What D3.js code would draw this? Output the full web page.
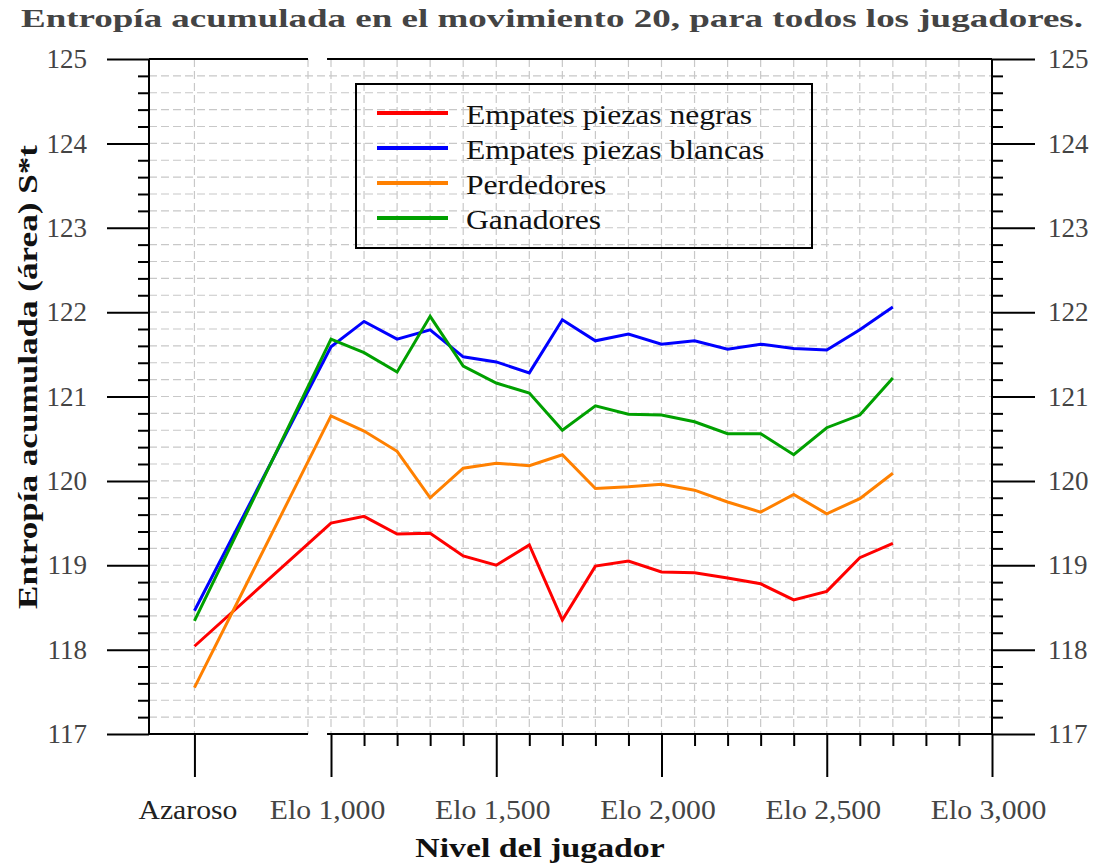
<!DOCTYPE html>
<html>
<head>
<meta charset="utf-8">
<script src="https://cdn.jsdelivr.net/npm/d3@7"></script>
<style>
  body { margin: 0; background: #fff; }
  svg { display: block; font-family: "Liberation Serif", "Times New Roman", serif; }
  .grid line { stroke: #c8c8c8; stroke-width: 1.2; stroke-dasharray: 8,4; }
  .frame line { stroke: #000; stroke-width: 2; }
  .tick line { stroke: #000; stroke-width: 2; }
  .tick text { fill: #444; font-size: 27px; }
</style>
</head>
<body>
<svg id="chart" width="1100" height="865"></svg>
<script>
// data
var levels = ["Azaroso", 1000, 1100, 1200, 1300, 1400, 1500, 1600, 1700, 1800,
  1900, 2000, 2100, 2200, 2300, 2400, 2500, 2600, 2700];
var negras     = [118.04, 119.50, 119.58, 119.37, 119.38, 119.11, 119.00, 119.24, 118.35, 118.99,
  119.05, 118.92, 118.91, 118.85, 118.78, 118.59, 118.69, 119.09, 119.26];
var blancas    = [118.46, 121.59, 121.89, 121.68, 121.79, 121.47, 121.41, 121.28, 121.91, 121.66,
  121.74, 121.62, 121.66, 121.56, 121.62, 121.57, 121.55, 121.79, 122.06];
var perdedores = [117.55, 120.77, 120.59, 120.35, 119.80, 120.15, 120.21, 120.18, 120.31, 119.91,
  119.93, 119.96, 119.89, 119.75, 119.63, 119.84, 119.61, 119.79, 120.09];
var ganadores  = [118.34, 121.68, 121.52, 121.29, 121.95, 121.36, 121.16, 121.04, 120.60, 120.89,
  120.79, 120.78, 120.70, 120.56, 120.56, 120.31, 120.63, 120.78, 121.22];

var seriesNames = ["Empates piezas negras", "Empates piezas blancas", "Perdedores", "Ganadores"];
var seriesColors = ["#ff0000", "#0000ff", "#ff8000", "#00a000"];
var seriesValues = [negras, blancas, perdedores, ganadores];

var yMajor = [117, 118, 119, 120, 121, 122, 123, 124, 125];
var eloMajor = [1000, 1500, 2000, 2500, 3000];
var eloLabels = ["Elo 1,000", "Elo 1,500", "Elo 2,000", "Elo 2,500", "Elo 3,000"];

var serif = '"Liberation Serif", "Times New Roman", serif';
var svg = d3.select("#chart");

// scales: broken x axis, a small left piece for "Azaroso" and the Elo piece
var y = d3.scaleLinear().domain([117, 125]).range([734, 59]);
var xLeft = d3.scaleLinear().domain([0, 3.5]).range([149, 308]);
var xRight = d3.scaleLinear().domain([1000, 3000]).range([331, 992]);
var eloStart = 988;

function xPos(lvl) {
  return lvl === "Azaroso" ? xLeft(1) : xRight(lvl);
}

// stretch serif text a bit so it takes the width of the original font
function widen(sel, k) {
  sel.each(function () {
    var w = this.getComputedTextLength();
    d3.select(this).attr("textLength", w * k).attr("lengthAdjust", "spacingAndGlyphs");
  });
}

var yMinor = d3.range(117, 125.001, 0.2).filter(function (v) {
  return Math.abs(v - Math.round(v)) > 0.01;
});
var eloMinor = d3.range(1000, 3001, 100).filter(function (v) { return v % 500 !== 0; });

// grid
var grid = svg.append("g").attr("class", "grid");
grid.selectAll(".h").data(yMinor.concat(yMajor.slice(1, -1))).enter().append("line")
  .attr("x1", xLeft(0)).attr("x2", xRight(3000))
  .attr("y1", function (d) { return y(d); }).attr("y2", function (d) { return y(d); });
grid.selectAll(".v").data(d3.range(1000, 3000, 100)).enter().append("line")
  .attr("x1", function (d) { return xRight(d); }).attr("x2", function (d) { return xRight(d); })
  .attr("y1", y(125)).attr("y2", y(117));
grid.selectAll(".vl").data([1, 3.5]).enter().append("line")
  .attr("x1", function (d) { return xLeft(d); }).attr("x2", function (d) { return xLeft(d); })
  .attr("y1", y(125)).attr("y2", y(117));

// y axes
svg.append("g").attr("transform", "translate(" + xLeft(0) + ",0)")
  .call(d3.axisLeft(y).tickValues(yMajor).tickSize(42).tickPadding(20).tickFormat(d3.format("d")));
svg.append("g").attr("transform", "translate(" + xLeft(0) + ",0)")
  .call(d3.axisLeft(y).tickValues(yMinor).tickSize(11).tickFormat(""));
svg.append("g").attr("transform", "translate(" + xRight(3000) + ",0)")
  .call(d3.axisRight(y).tickValues(yMajor).tickSize(43).tickPadding(13).tickFormat(d3.format("d")));
svg.append("g").attr("transform", "translate(" + xRight(3000) + ",0)")
  .call(d3.axisRight(y).tickValues(yMinor).tickSize(11).tickFormat(""));

// x axes
svg.append("g").attr("transform", "translate(0," + y(117) + ")")
  .call(d3.axisBottom(xRight).tickValues(eloMajor).tickSize(43).tickPadding(23)
    .tickFormat(function (d, i) { return eloLabels[i]; }));
svg.append("g").attr("transform", "translate(0," + y(117) + ")")
  .call(d3.axisBottom(xRight).tickValues(eloMinor).tickSize(12).tickFormat(""));
var azAxis = d3.scalePoint().domain(["Azaroso"]).range([xLeft(1), xLeft(1)]);
svg.append("g").attr("transform", "translate(0," + y(117) + ")")
  .call(d3.axisBottom(azAxis).tickSize(43).tickPadding(23));

svg.selectAll(".domain").remove();
// d3 axes put font-family="sans-serif" on their group, force serif on every label
svg.selectAll("g").filter(function () { return this.hasAttribute("font-family"); })
  .attr("font-family", serif).attr("font-size", 27);
svg.selectAll(".tick text").style("font-family", serif);

var xLabels = svg.selectAll(".tick text").filter(function (d) { return typeof d !== "number" || d >= 1000; });
xLabels.attr("dx", -4);
xLabels.filter(function (d) { return d === "Azaroso"; }).attr("dx", -7).style("fill", "#222");
widen(xLabels, 1.1);

// frame: axis lines, broken top and bottom
var frame = svg.append("g").attr("class", "frame");
frame.append("line").attr("x1", xLeft(0)).attr("x2", xLeft(0)).attr("y1", y(125)).attr("y2", y(117));
frame.append("line").attr("x1", xRight(3000)).attr("x2", xRight(3000)).attr("y1", y(125)).attr("y2", y(117));
[125, 117].forEach(function (v) {
  frame.append("line").attr("x1", xLeft(0)).attr("x2", xLeft(3.5)).attr("y1", y(v)).attr("y2", y(v));
  frame.append("line").attr("x1", xRight(eloStart)).attr("x2", xRight(3000)).attr("y1", y(v)).attr("y2", y(v));
});

// lines
var line = d3.line()
  .x(function (d, i) { return xPos(levels[i]); })
  .y(function (d) { return y(d); });

svg.append("g").selectAll("path").data(seriesValues).enter().append("path")
  .attr("d", line)
  .attr("fill", "none")
  .attr("stroke", function (d, i) { return seriesColors[i]; })
  .attr("stroke-width", 3)
  .attr("stroke-linejoin", "miter");

// legend
var legend = svg.append("g");
legend.append("rect").attr("x", 356).attr("y", 84).attr("width", 456).attr("height", 164)
  .attr("fill", "none").attr("stroke", "#000").attr("stroke-width", 2);
var rows = legend.selectAll(".row").data(seriesNames).enter().append("g")
  .attr("transform", function (d, i) { return "translate(377," + (113 + i * 35) + ")"; });
rows.append("line").attr("x1", 0).attr("x2", 71)
  .attr("stroke", function (d, i) { return seriesColors[i]; }).attr("stroke-width", 4);
var legText = rows.append("text").attr("x", 89).attr("y", 11)
  .style("font-size", "27px").style("fill", "#111")
  .text(function (d) { return d; });
widen(legText, 1.17);

// titles
svg.append("text").attr("x", 21).attr("y", 27)
  .style("font-size", "26px").style("font-weight", "bold").style("fill", "#444")
  .attr("textLength", 1062).attr("lengthAdjust", "spacingAndGlyphs")
  .text("Entropía acumulada en el movimiento 20, para todos los jugadores.");

var xt = svg.append("text").attr("x", 540).attr("y", 857).attr("text-anchor", "middle")
  .style("font-size", "27px").style("font-weight", "bold").style("fill", "#111")
  .text("Nivel del jugador");
widen(xt, 1.25);

var yt = svg.append("text").attr("transform", "translate(37,377) rotate(-90)")
  .attr("text-anchor", "middle")
  .style("font-size", "27px").style("font-weight", "bold").style("fill", "#111")
  .text("Entropía acumulada (área) S*t");
widen(yt, 1.3);
</script>
</body>
</html>
